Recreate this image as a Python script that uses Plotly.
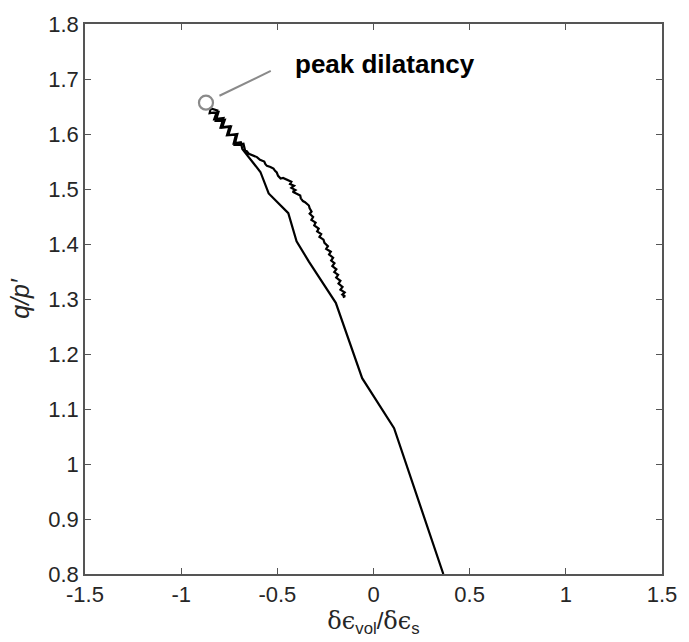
import plotly.graph_objects as go

# Lower (smooth) branch, from bottom upward
lower_x = [0.363, 0.107, -0.059, -0.128, -0.196, -0.336, -0.400, -0.443, -0.545, -0.588, -0.630, -0.682]
lower_y = [0.800, 1.065, 1.156, 1.224, 1.293, 1.368, 1.405, 1.456, 1.492, 1.531, 1.549, 1.5726]

# Noisy climb toward peak
climb_x = [-0.690, -0.727, -0.715, -0.762, -0.748, -0.795, -0.780, -0.828, -0.812, -0.846]
climb_y = [1.5850, 1.5830, 1.5990, 1.5975, 1.6140, 1.6120, 1.6290, 1.6270, 1.6430, 1.6466]

# Noisy return from peak
ret_x = [-0.852, -0.806, -0.820, -0.773, -0.787, -0.741, -0.755, -0.708, -0.722, -0.676, -0.667]
ret_y = [1.6380, 1.6400, 1.6240, 1.6260, 1.6115, 1.6135, 1.5980, 1.6000, 1.5805, 1.5825, 1.569]

# Upper noisy branch, descending
upper_x = [-0.674, -0.660, -0.648, -0.630, -0.606, -0.590, -0.568, -0.562, -0.554, -0.536,
           -0.520, -0.512, -0.503, -0.496, -0.483, -0.470, -0.452, -0.440, -0.427, -0.434,
           -0.413, -0.427, -0.406, -0.420, -0.398, -0.390, -0.381, -0.378, -0.367, -0.356,
           -0.345, -0.336, -0.332, -0.322, -0.332, -0.314, -0.323, -0.301, -0.308, -0.285,
           -0.293, -0.272, -0.281, -0.260, -0.255, -0.237, -0.246, -0.222, -0.231, -0.210,
           -0.220, -0.203, -0.214, -0.193, -0.204, -0.184, -0.194, -0.172, -0.182, -0.161,
           -0.172, -0.150, -0.162, -0.148, -0.160]
upper_y = [1.570, 1.569, 1.564, 1.562, 1.558, 1.553, 1.550, 1.545, 1.542, 1.540,
           1.537, 1.533, 1.530, 1.524, 1.519, 1.520, 1.517, 1.515, 1.513, 1.509,
           1.506, 1.502, 1.498, 1.495, 1.491, 1.490, 1.488, 1.483, 1.478, 1.476,
           1.473, 1.470, 1.465, 1.459, 1.455, 1.449, 1.444, 1.439, 1.434, 1.428,
           1.423, 1.418, 1.413, 1.408, 1.402, 1.396, 1.391, 1.386, 1.381, 1.375,
           1.370, 1.365, 1.360, 1.354, 1.349, 1.344, 1.339, 1.333, 1.328, 1.322,
           1.317, 1.312, 1.308, 1.305, 1.303]

peak_x = [-0.871]
peak_y = [1.657]
peak_label = "peak dilatancy"

x_ticks = [-1.5, -1, -0.5, 0, 0.5, 1, 1.5]
x_ticklabels = ["-1.5", "-1", "-0.5", "0", "0.5", "1", "1.5"]
y_ticks = [0.8, 0.9, 1.0, 1.1, 1.2, 1.3, 1.4, 1.5, 1.6, 1.7, 1.8]
y_ticklabels = ["0.8", "0.9", "1", "1.1", "1.2", "1.3", "1.4", "1.5", "1.6", "1.7", "1.8"]

path_x = lower_x + climb_x + ret_x + upper_x
path_y = lower_y + climb_y + ret_y + upper_y

axis_col = "#555555"
font_fam = "Liberation Sans, Arial, Helvetica, sans-serif"

fig = go.Figure()
fig.add_trace(go.Scatter(x=path_x, y=path_y, mode="lines",
                         line=dict(color="black", width=2.2), showlegend=False))
fig.add_trace(go.Scatter(x=peak_x, y=peak_y, mode="markers",
                         marker=dict(symbol="circle-open", size=14,
                                     line=dict(color="#8a8a8a", width=2.2), color="#8a8a8a"),
                         showlegend=False))

fig.add_shape(type="line", x0=-0.801, y0=1.6695, x1=-0.534, y1=1.7146,
              xref="x", yref="y", line=dict(color="#8a8a8a", width=2))
fig.add_annotation(x=-0.420, y=1.727, xref="x", yref="y", text="<b>" + peak_label + "</b>",
                   showarrow=False, xanchor="left", yanchor="middle",
                   font=dict(family=font_fam, size=26, color="black"))

greek = '<span style="font-family:DejaVu Serif">'
xtitle = (greek + "δϵ</span><sub>vol</sub>/" + greek + "δϵ</span><sub>s</sub>")

fig.update_layout(
    width=689, height=642,
    margin=dict(l=85, r=17, t=21, b=67),
    plot_bgcolor="white", paper_bgcolor="white",
    font=dict(family=font_fam, size=22, color="#262626"),
    xaxis=dict(range=[-1.5, 1.5], tickvals=x_ticks, ticktext=x_ticklabels,
               ticks="inside", ticklen=6, tickcolor=axis_col, tickwidth=1,
               showline=True, linecolor=axis_col, linewidth=1.5, mirror="ticks",
               showgrid=False, zeroline=False,
               title=dict(text=xtitle, font=dict(size=24), standoff=6)),
    yaxis=dict(range=[0.8, 1.8], tickvals=y_ticks, ticktext=y_ticklabels,
               ticks="inside", ticklen=6, tickcolor=axis_col, tickwidth=1,
               showline=True, linecolor=axis_col, linewidth=1.5, mirror="ticks",
               showgrid=False, zeroline=False,
               title=dict(text="<i>q/p′</i>", font=dict(size=25), standoff=12)),
)

fig.write_html("out.html")
